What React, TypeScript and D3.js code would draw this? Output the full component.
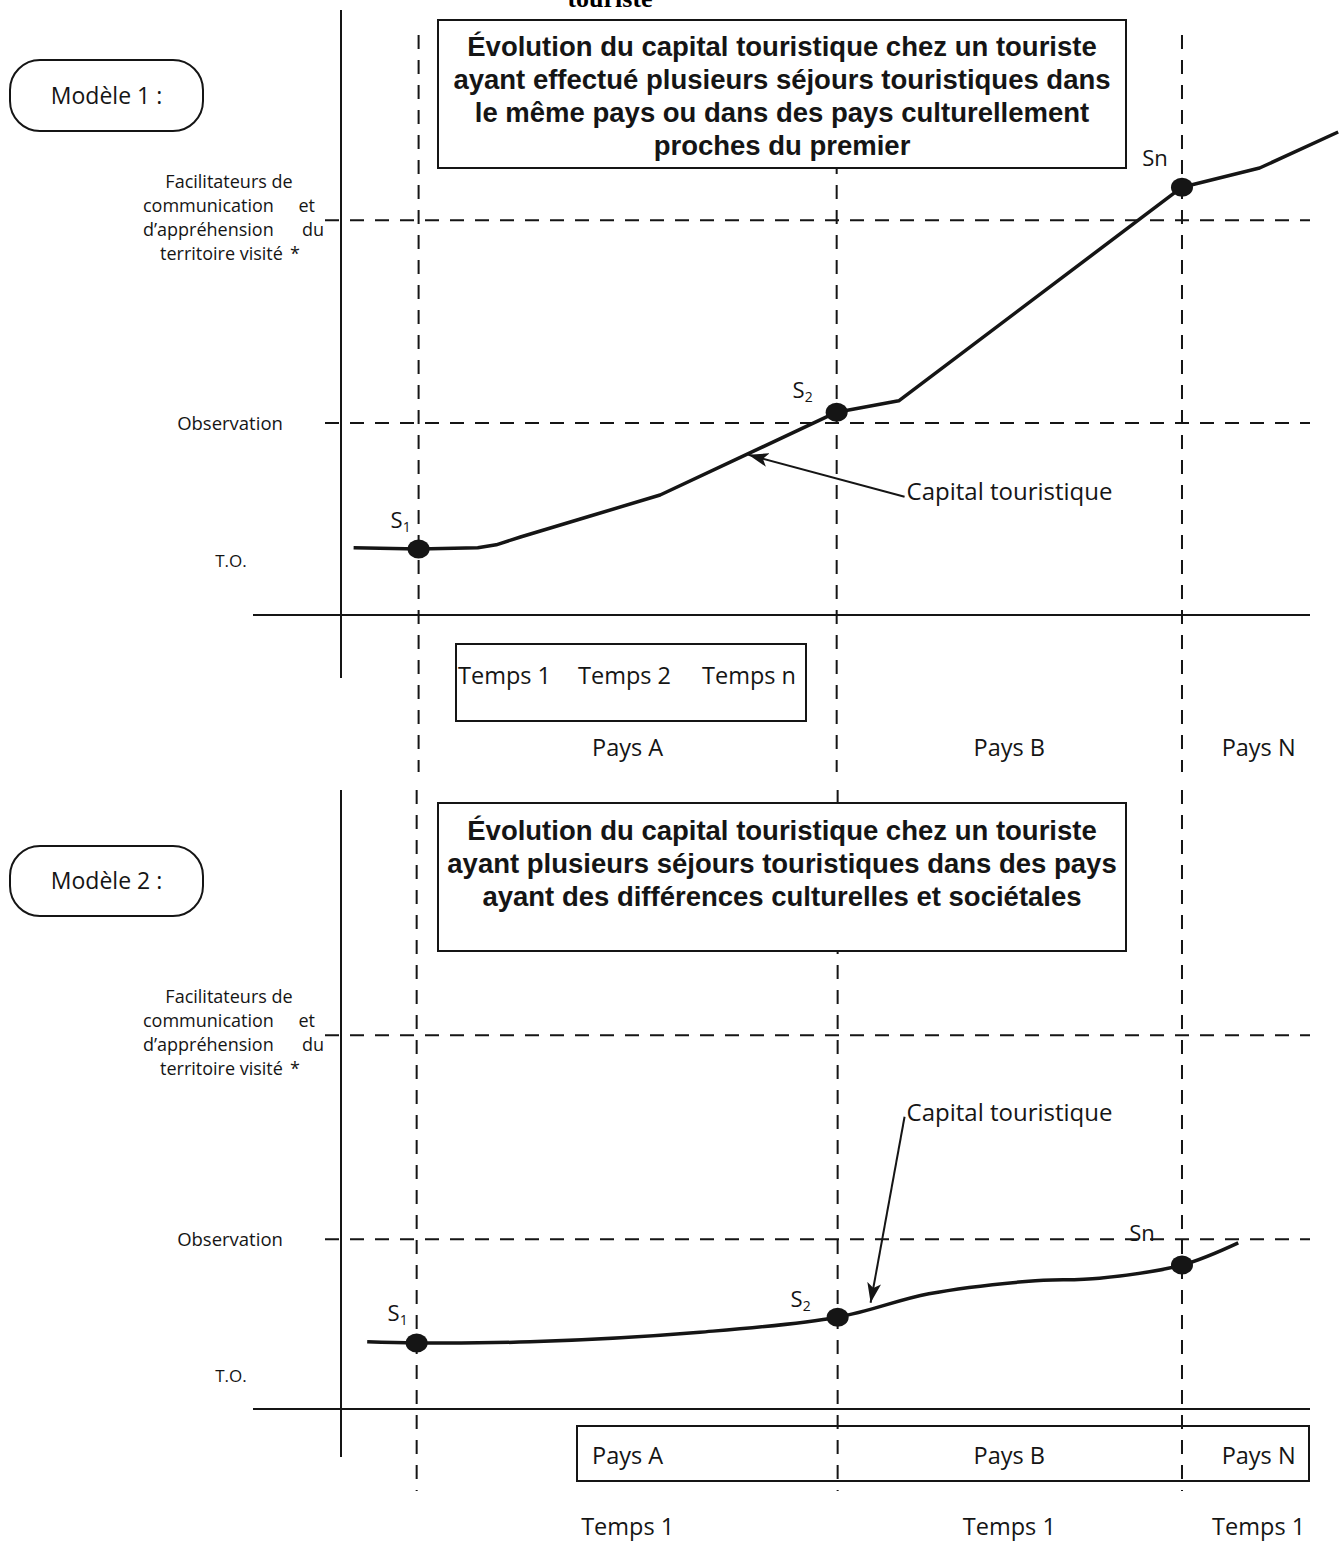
import React from "react";
import * as d3 from "d3";

// ---------- DATA ----------
const headerFragment = "touriste";
const stayLabels = ["S", "S", "Sn"];
const staySubs = ["1", "2", ""];
const countries = ["Pays A", "Pays B", "Pays N"];
const countryBounds = [8.0, 51.1, 86.7, 102.5];
const m1Times = ["Temps 1", "Temps 2", "Temps n"];
const m2Times = ["Temps 1", "Temps 1", "Temps 1"];
const curveLabel = "Capital touristique";

const m1Title = [
  "Évolution du capital touristique chez un touriste",
  "ayant effectué plusieurs séjours touristiques dans",
  "le même pays ou dans des pays culturellement",
  "proches du premier",
];
const m2Title = [
  "Évolution du capital touristique chez un touriste",
  "ayant plusieurs séjours touristiques dans des pays",
  "ayant des différences culturelles et sociétales",
];
const modelNames = ["Modèle 1 :", "Modèle 2 :"];
const facilLines = [["Facilitateurs de"], ["communication", "et"], ["d’appréhension", "du"], ["territoire visité", "*"]];
const obsLabel = "Observation";
const toLabel = "T.O.";

// Model 1 (x: time units, y: capital units)
const m1CurveX = [1.3, 8.0, 14.1, 16.0, 18.5, 25.7, 32.9, 51.1, 57.5, 86.7, 94.7, 102.8];
const m1CurveY = [11.2, 11.0, 11.2, 11.7, 13.0, 16.5, 20.0, 33.8, 35.7, 71.3, 74.5, 80.5];
const m1StayX = [8.0, 51.1, 86.7];
const m1StayY = [11.0, 33.8, 71.3];
const m1Levels = [32.0, 65.8]; // observation, facilitateurs
const m1ArrowTip = [42.0, 26.7];
const m1ArrowTail = [58.1, 19.7];

// Model 2
const m2CurveX = [2.7, 7.8, 19.5, 37.0, 51.2, 60.6, 70.9, 78.2, 86.7, 92.5];
const m2CurveY = [11.2, 11.0, 11.2, 12.8, 15.3, 19.2, 21.3, 21.8, 24.0, 27.7];
const m2StayX = [7.8, 51.2, 86.7];
const m2StayY = [11.0, 15.3, 24.0];
const m2Levels = [28.3, 62.3];
const m2ArrowTip = [54.6, 17.7];
const m2ArrowTail = [58.1, 48.7];

// ---------- LAYOUT ----------
const INK = "#151515";
const MY = "'Open Sans', 'Noto Sans', sans-serif";
const BOLD = "'Liberation Sans', Arial, sans-serif";

const panels = [
  {
    axisY: 615, vAxis: [10, 678], vDash: [35, 772], hStart: 253, hEnd: 1310,
    box: { x: 438, y: 20, w: 688, h: 148 }, title: m1Title, titleBase: 56,
    modelBox: { x: 10, y: 60, w: 193, h: 71 }, modelName: modelNames[0], toY: 567,
    curveX: m1CurveX, curveY: m1CurveY, stayX: m1StayX, stayY: m1StayY, levels: m1Levels,
    tip: m1ArrowTip, tail: m1ArrowTail, textDy: 3, smooth: false,
    sOff: [[-18, -21], [-34, -14], [-27, -21]],
    kind: 1,
  },
  {
    axisY: 1409, vAxis: [790, 1457], vDash: [790, 1491], hStart: 253, hEnd: 1310,
    box: { x: 438, y: 803, w: 688, h: 148 }, title: m2Title, titleBase: 840,
    modelBox: { x: 10, y: 846, w: 193, h: 70 }, modelName: modelNames[1], toY: 1382,
    curveX: m2CurveX, curveY: m2CurveY, stayX: m2StayX, stayY: m2StayY, levels: m2Levels,
    tip: m2ArrowTip, tail: m2ArrowTail, textDy: 4, smooth: true,
    sOff: [[-19, -22], [-37, -10], [-40, -24]],
    kind: 2,
  },
];

function Panel({ p, xs }: any) {
  const y = d3.scaleLinear().domain([0, 100]).range([p.axisY, p.axisY - 600]);
  const pts: [number, number][] = p.curveX.map((v: number, i: number) => [xs(v), y(p.curveY[i])]);
  const gen = d3.line().curve(p.smooth ? d3.curveCatmullRom.alpha(0.5) : d3.curveLinear);
  const path = gen(pts) || "";
  const obsY = y(p.levels[0]);
  const facY = y(p.levels[1]);
  const dash = "14,11";
  const mids = countries.map((_, i) => (xs(countryBounds[i]) + xs(countryBounds[i + 1])) / 2);
  return (
    <g>
      {p.levels.map((lv: number, i: number) => (
        <line key={"h" + i} x1={325} x2={1310} y1={y(lv)} y2={y(lv)} stroke={INK} strokeWidth={2} strokeDasharray={dash} />
      ))}
      {p.stayX.map((sx: number, i: number) => (
        <line key={"v" + i} x1={xs(sx)} x2={xs(sx)} y1={p.vDash[0]} y2={p.vDash[1]} stroke={INK} strokeWidth={2} strokeDasharray={dash} />
      ))}
      <line x1={341} x2={341} y1={p.vAxis[0]} y2={p.vAxis[1]} stroke={INK} strokeWidth={2} />
      <line x1={p.hStart} x2={p.hEnd} y1={p.axisY} y2={p.axisY} stroke={INK} strokeWidth={2} />
      <rect x={p.box.x} y={p.box.y} width={p.box.w} height={p.box.h} fill="#fff" stroke={INK} strokeWidth={2} />
      {p.title.map((t: string, i: number) => (
        <text key={"t" + i} x={p.box.x + p.box.w / 2} y={p.titleBase + i * 33} textAnchor="middle" fontFamily={BOLD} fontWeight="bold" fontSize={27.5} fill={INK}>{t}</text>
      ))}
      <rect x={p.modelBox.x} y={p.modelBox.y} width={p.modelBox.w} height={p.modelBox.h} rx={30} ry={30} fill="#fff" stroke={INK} strokeWidth={2} />
      <text x={p.modelBox.x + p.modelBox.w / 2} y={p.modelBox.y + p.modelBox.h / 2 + 8} textAnchor="middle" fontFamily={MY} fontSize={23} fill={INK}>{p.modelName}</text>
      {facilLines.map((ln, i) => {
        const yy = facY - 38 + i * 24 + 6;
        if (ln.length === 1) return <text key={"f" + i} x={229} y={yy} textAnchor="middle" fontFamily={MY} fontSize={18} fill={INK}>{ln[0]}</text>;
        const sx = i === 3 ? 160 : 143;
        const ex = i === 1 ? 315 : i === 2 ? 324 : 300;
        return (
          <g key={"f" + i}>
            <text x={sx} y={yy} fontFamily={MY} fontSize={18} fill={INK}>{ln[0]}</text>
            <text x={ex} y={yy} textAnchor="end" fontFamily={MY} fontSize={18} fill={INK}>{ln[1]}</text>
          </g>
        );
      })}
      <text x={230} y={obsY + 7} textAnchor="middle" fontFamily={MY} fontSize={18.5} fill={INK}>{obsLabel}</text>
      <text x={231} y={p.toY} textAnchor="middle" fontFamily={MY} fontSize={17} fill={INK}>{toLabel}</text>
      <path d={path} fill="none" stroke={INK} strokeWidth={3.5} strokeLinejoin="round" strokeLinecap="butt" />
      {p.stayX.map((sx: number, i: number) => (
        <ellipse key={"d" + i} cx={xs(sx)} cy={y(p.stayY[i])} rx={11} ry={9.5} fill={INK} />
      ))}
      {p.stayX.map((sx: number, i: number) => (
        <text key={"s" + i} x={xs(sx) + p.sOff[i][0]} y={y(p.stayY[i]) + p.sOff[i][1]} textAnchor="middle" fontFamily={MY} fontSize={22} fill={INK}>
          {stayLabels[i]}
          {staySubs[i] ? <tspan fontSize={14} dy={4}>{staySubs[i]}</tspan> : null}
        </text>
      ))}
      <line x1={xs(p.tail[0])} y1={y(p.tail[1])} x2={xs(p.tip[0])} y2={y(p.tip[1])} stroke={INK} strokeWidth={2} markerEnd="url(#ah)" />
      <text x={xs(p.tail[0]) + 2} y={y(p.tail[1]) + p.textDy} fontFamily={MY} fontSize={24} fill={INK}>{curveLabel}</text>
      {p.kind === 1 ? (
        <g>
          <rect x={456} y={644} width={350} height={77} fill="none" stroke={INK} strokeWidth={2} />
          {m1Times.map((t, i) => (
            <text key={"tm" + i} x={[458, 578, 702][i]} y={684} fontFamily={MY} fontSize={23.5} fill={INK}>{t}</text>
          ))}
          {countries.map((c, i) => (
            <text key={"c" + i} x={mids[i]} y={756} textAnchor="middle" fontFamily={MY} fontSize={23.5} fill={INK}>{c}</text>
          ))}
        </g>
      ) : (
        <g>
          <rect x={577} y={1426} width={732} height={55} fill="none" stroke={INK} strokeWidth={2} />
          {countries.map((c, i) => (
            <text key={"c" + i} x={mids[i]} y={1464} textAnchor="middle" fontFamily={MY} fontSize={23.5} fill={INK}>{c}</text>
          ))}
          {m2Times.map((t, i) => (
            <text key={"tm" + i} x={mids[i]} y={1535} textAnchor="middle" fontFamily={MY} fontSize={23.5} fill={INK}>{t}</text>
          ))}
        </g>
      )}
    </g>
  );
}

export default function App() {
  const xs = d3.scaleLinear().domain([0, 100]).range([341, 1311]);
  return (
    <svg width={1344} height={1542} style={{ position: "absolute", left: 0, top: 0, display: "block" }} xmlns="http://www.w3.org/2000/svg">
      <defs>
        <marker id="ah" viewBox="0 0 20 14" refX={20} refY={7} markerWidth={20} markerHeight={14} orient="auto" markerUnits="userSpaceOnUse">
          <path d="M20,7 L0,0 L5,7 L0,14 Z" fill={INK} />
        </marker>
      </defs>
      <rect x={0} y={0} width={1344} height={1542} fill="#fff" />
      <text x={610} y={7} textAnchor="middle" fontFamily="'Liberation Serif', 'Times New Roman', serif" fontWeight="bold" fontSize={26} fill="#000">{headerFragment}</text>
      {panels.map((p, i) => (
        <Panel key={i} p={p} xs={xs} />
      ))}
    </svg>
  );
}
